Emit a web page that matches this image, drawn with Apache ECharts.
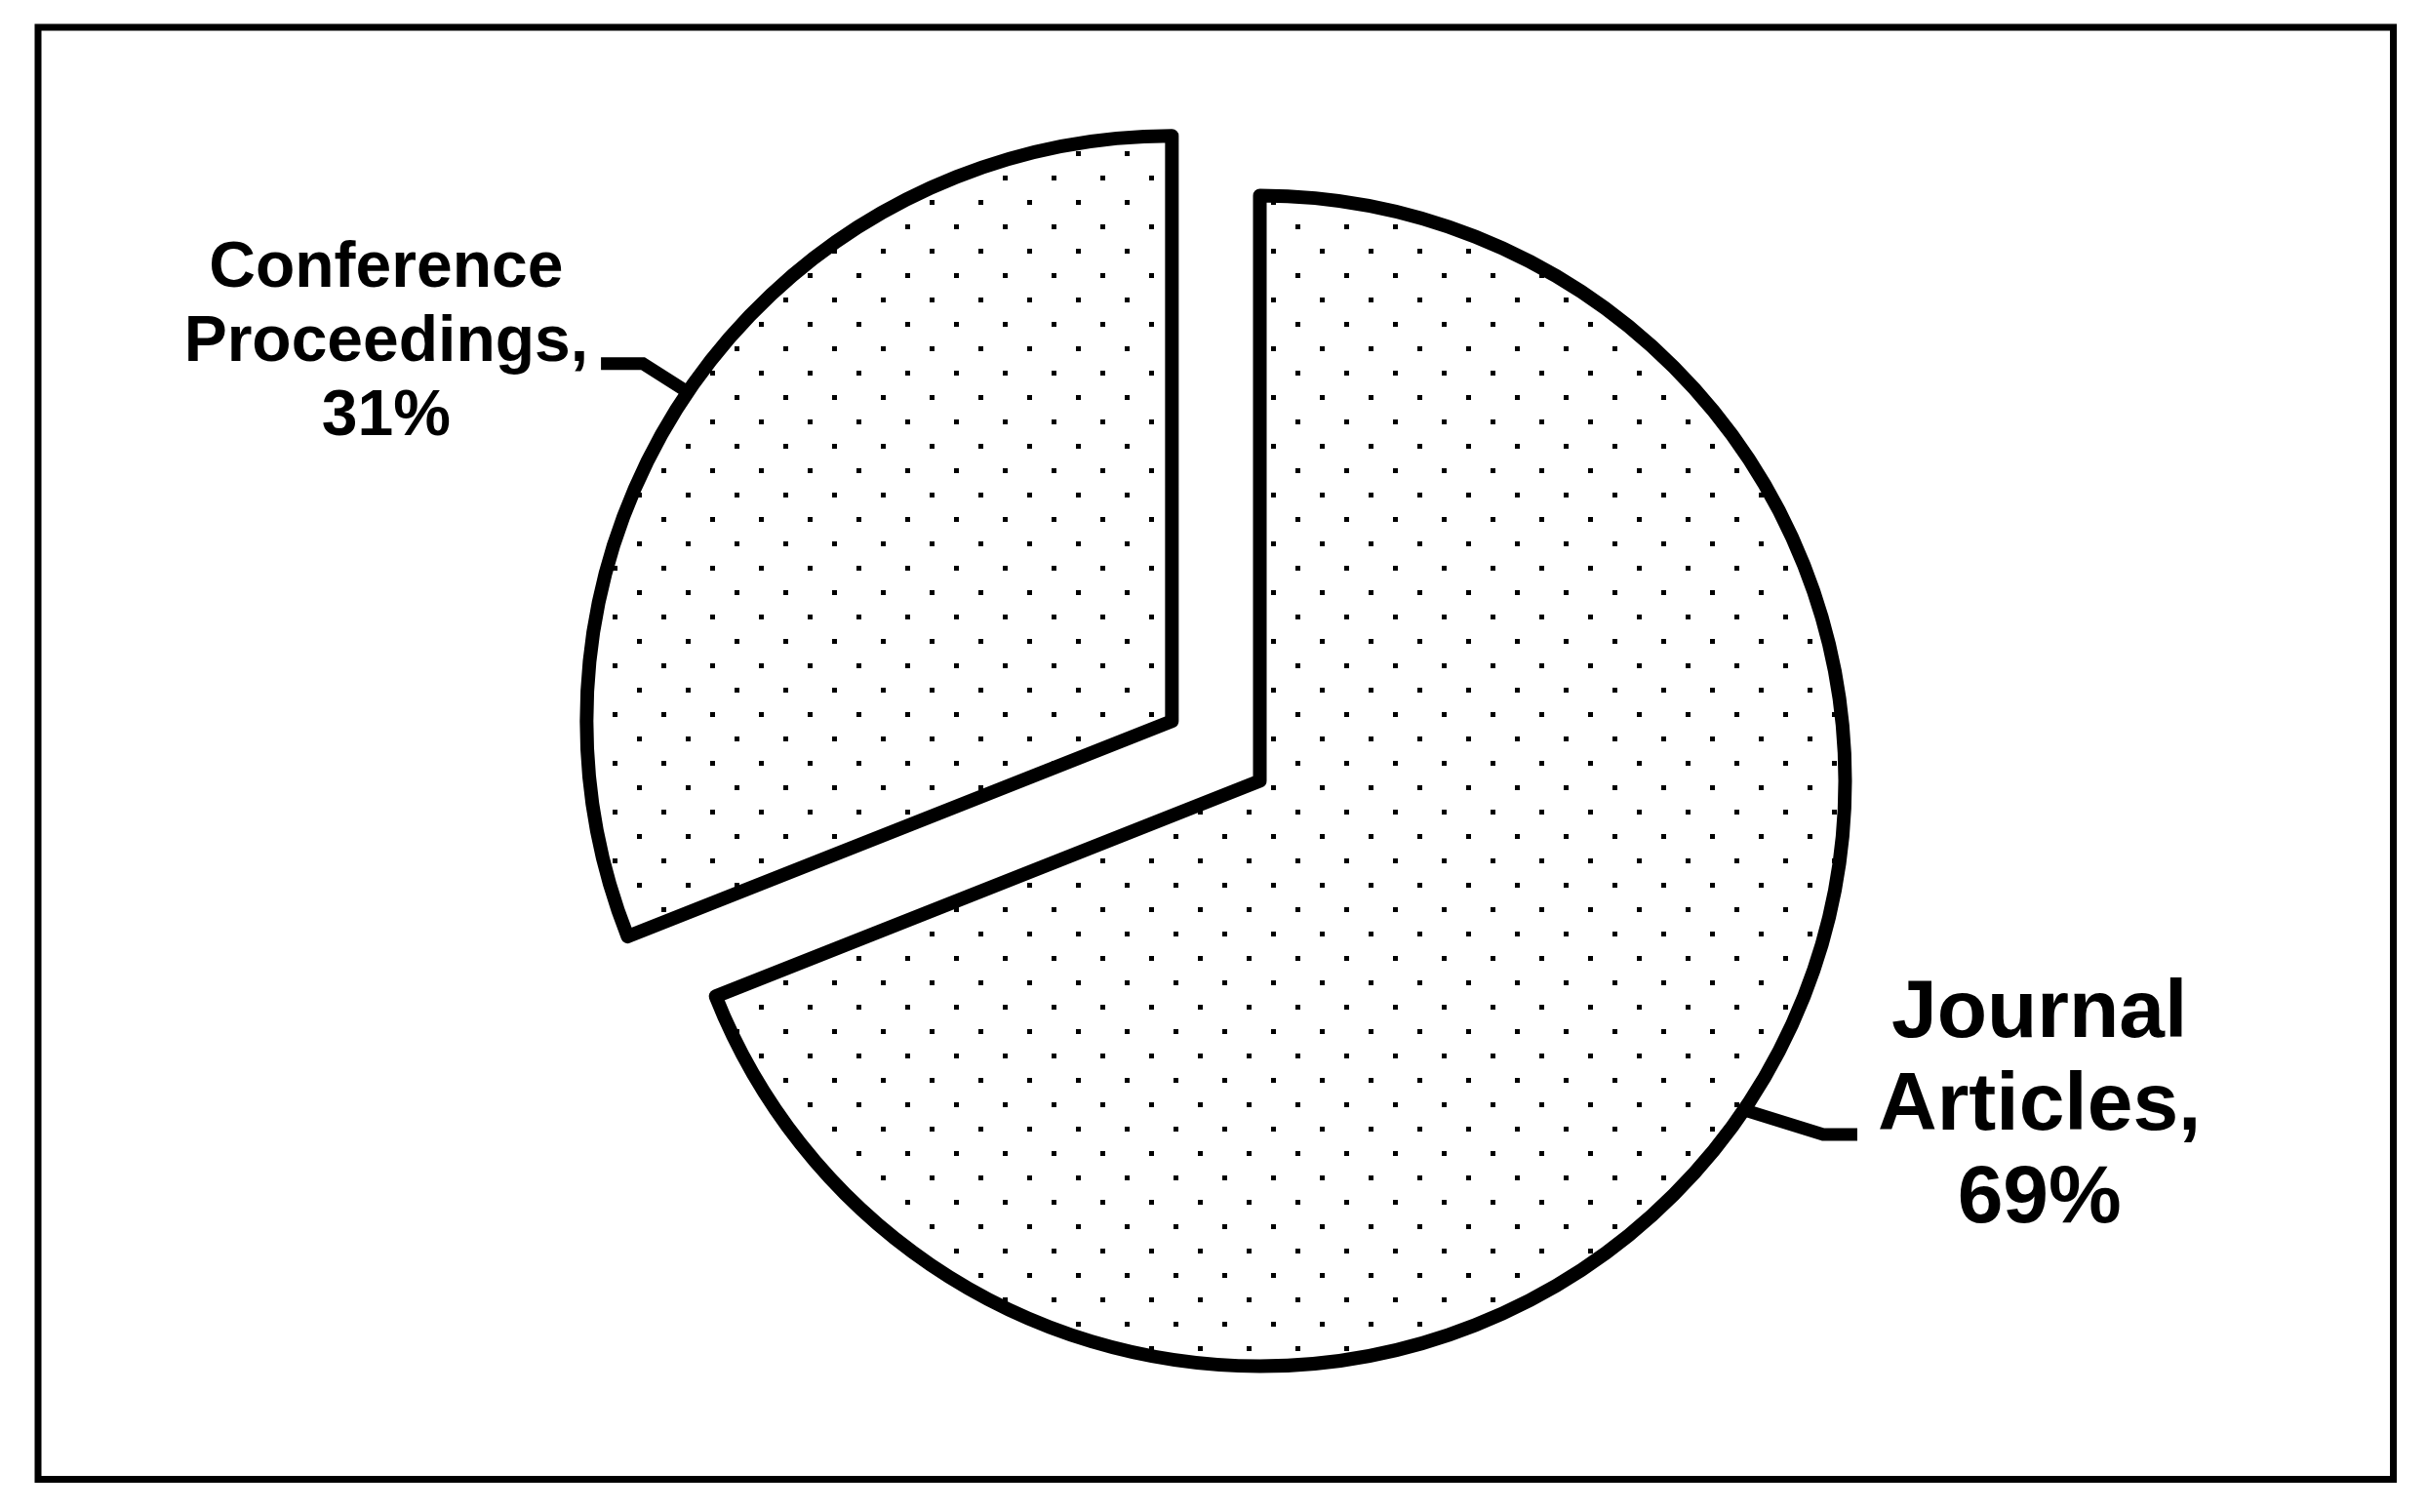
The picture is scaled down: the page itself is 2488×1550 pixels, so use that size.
<!DOCTYPE html>
<html>
<head>
<meta charset="utf-8">
<script src="https://cdn.jsdelivr.net/npm/echarts@6/dist/echarts.min.js"></script>
<style>
html,body{margin:0;padding:0;background:#ffffff;}
#chart{width:2488px;height:1550px;}
</style>
</head>
<body>
<div id="chart"></div>
<script>
// ---- data ----
const categories = ['Journal Articles', 'Conference Proceedings'];
const shares = [69, 31];
const labelWords = [['Journal', 'Articles,'], ['Conference', 'Proceedings,']];
const explodedIndex = 1;

// ---- styles ----
const labelFont = [84, 66];
const labelLineHeight = [95, 76];
const leaderLen = [[45, 79], [52, 46]];
const leaderFlat = [35, 43];
const labelGap = [21, 13];
const labelShiftY = [-28, -21];

// dotted fill pattern
const tile = document.createElement('canvas');
tile.width = 50; tile.height = 50;
const tctx = tile.getContext('2d');
tctx.fillStyle = '#ffffff'; tctx.fillRect(0, 0, 50, 50);
tctx.fillStyle = '#000000';
tctx.fillRect(3, 5, 5, 5);
tctx.fillRect(28, 30, 5, 5);
const dots = { image: tile, repeat: 'repeat' };

const cx = 1291.5, cy = 800.5, R = 600, explode = 109;
const total = shares.reduce((a, b) => a + b, 0);
let before = 0;
for (let i = 0; i < explodedIndex; i++) before += shares[i];
const midDeg = 90 - 360 * (before + shares[explodedIndex] / 2) / total;
const rad = midDeg * Math.PI / 180;
const ecx = cx + Math.cos(rad) * explode;
const ecy = cy - Math.sin(rad) * explode;

function labelLayout(p) {
  const pts = p.labelLinePoints;
  if (!pts || !p.labelRect) return {};
  const i = p.dataIndex;
  const p0 = pts[0], p2 = pts[2];
  const side = p2[0] >= pts[1][0] ? 1 : -1;
  const p1 = [p2[0] - side * leaderFlat[i], p2[1]];
  const w = p.labelRect.width;
  return {
    x: p2[0] + side * (labelGap[i] + w / 2),
    y: p2[1] + labelShiftY[i],
    align: 'center',
    verticalAlign: 'middle',
    labelLinePoints: [p0, p1, p2]
  };
}

function makeSeries(center, showExploded) {
  return {
    type: 'pie',
    center: center,
    radius: R,
    startAngle: 90,
    clockwise: true,
    avoidLabelOverlap: false,
    silent: true,
    animation: false,
    emphasis: { disabled: true, scale: false },
    labelLayout: labelLayout,
    data: categories.map((name, i) => {
      const visible = (i === explodedIndex) === showExploded;
      if (!visible) {
        return {
          name: name, value: shares[i],
          itemStyle: { color: 'rgba(0,0,0,0)', borderWidth: 0 },
          label: { show: false }, labelLine: { show: false }
        };
      }
      return {
        name: name, value: shares[i],
        itemStyle: { color: dots, borderColor: '#000000', borderWidth: 14, borderJoin: 'round' },
        label: {
          show: true,
          position: 'outside',
          formatter: () => labelWords[i].join('\n') + '\n' + shares[i] + '%',
          color: '#000000',
          fontFamily: '"Liberation Sans", Arial, Helvetica, sans-serif',
          fontWeight: 'bold',
          fontSize: labelFont[i],
          lineHeight: labelLineHeight[i]
        },
        labelLine: {
          show: true,
          length: leaderLen[i][0],
          length2: leaderLen[i][1],
          smooth: false,
          lineStyle: { color: '#000000', width: 13, cap: 'butt', join: 'miter' }
        }
      };
    })
  };
}

const chart = echarts.init(document.getElementById('chart'), null, { renderer: 'canvas', devicePixelRatio: 1 });
chart.setOption({
  backgroundColor: '#ffffff',
  animation: false,
  graphic: [{
    type: 'rect',
    shape: { x: 39, y: 28, width: 2414.5, height: 1488.5 },
    style: { fill: 'none', stroke: '#000000', lineWidth: 7 },
    silent: true
  }],
  series: [
    makeSeries([cx, cy], false),
    makeSeries([ecx, ecy], true)
  ]
});
</script>
</body>
</html>
